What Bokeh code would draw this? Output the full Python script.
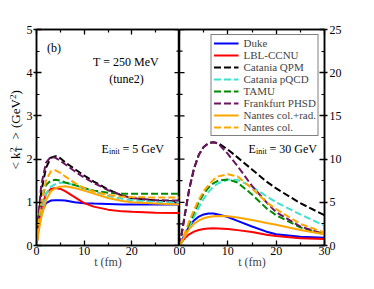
from math import pi
from bokeh.plotting import figure
from bokeh.layouts import row
from bokeh.models import Range1d, LinearAxis, FixedTicker, Label, Legend, LegendItem
from bokeh.embed import file_html
from bokeh.resources import INLINE

SERIF = "Liberation Serif"

series_names = ["Duke", "LBL-CCNU", "Catania QPM", "Catania pQCD", "TAMU",
                "Frankfurt PHSD", "Nantes col.+rad.", "Nantes col."]
series_colors = ["#0000ff", "#ff0000", "#000000", "#40e0d0", "#008b00",
                 "#6b1460", "#ffa500", "#ffa500"]
series_dashed = [False, False, True, True, True, True, False, True]

# ---- left panel: E_init = 5 GeV ----
t_left = [0, 0.5, 1, 2, 3, 4, 5, 6, 8, 10, 12, 15, 18, 20, 25, 30]
left_duke = [0, 0.45, 0.75, 0.98, 1.04, 1.05, 1.05, 1.04, 1.0, 0.98, 0.97, 0.96, 0.95, 0.95, 0.95, 0.95]
left_lbl = [0, 0.5, 0.85, 1.2, 1.31, 1.33, 1.31, 1.26, 1.12, 0.98, 0.9, 0.83, 0.79, 0.78, 0.76, 0.75]
left_qpm = [0.2, 0.7, 1.25, 1.8, 2.03, 2.07, 2.02, 1.93, 1.77, 1.62, 1.48, 1.3, 1.15, 1.1, 1.04, 1.02]
left_pqcd = [0, 0.45, 0.8, 1.2, 1.36, 1.42, 1.45, 1.45, 1.4, 1.32, 1.25, 1.15, 1.08, 1.05, 1.01, 1.0]
left_tamu = [0, 0.65, 1.05, 1.4, 1.5, 1.52, 1.5, 1.46, 1.4, 1.33, 1.27, 1.22, 1.2, 1.2, 1.2, 1.2]
left_phsd = [0.3, 0.8, 1.4, 1.92, 2.05, 2.03, 1.96, 1.88, 1.72, 1.57, 1.45, 1.28, 1.16, 1.1, 1.05, 1.04]
left_nantes_cr = [0, 0.35, 0.65, 1.05, 1.25, 1.33, 1.36, 1.37, 1.33, 1.27, 1.2, 1.1, 1.03, 1.0, 0.97, 0.95]
left_nantes_c = [0, 0.6, 1.0, 1.5, 1.72, 1.74, 1.68, 1.6, 1.45, 1.33, 1.25, 1.17, 1.13, 1.12, 1.11, 1.11]

# ---- right panel: E_init = 30 GeV ----
t_right = [0, 0.5, 1, 2, 3, 4, 5, 6, 7, 8, 10, 12, 15, 18, 20, 25, 30]
right_duke = [0, 0.6, 1.2, 2.2, 2.9, 3.35, 3.6, 3.7, 3.7, 3.6, 3.3, 2.85, 2.2, 1.6, 1.3, 1.0, 0.9]
right_lbl = [0, 0.4, 0.8, 1.3, 1.6, 1.8, 1.92, 1.98, 2.0, 1.98, 1.9, 1.78, 1.55, 1.25, 1.1, 0.85, 0.75]
right_qpm = [0, 1.5, 3.2, 6.5, 8.9, 10.5, 11.4, 11.85, 11.95, 11.85, 11.1, 10.2, 8.8, 7.4, 6.6, 4.9, 3.5]
right_pqcd = [0, 0.4, 0.9, 2.1, 3.3, 4.4, 5.4, 6.2, 6.8, 7.2, 7.6, 7.6, 6.8, 5.7, 5.0, 3.6, 2.3]
right_tamu = [0, 0.5, 1.1, 2.5, 3.8, 5.0, 6.0, 6.7, 7.2, 7.5, 7.65, 7.3, 5.9, 4.3, 3.5, 2.1, 1.3]
right_phsd = [0, 1.5, 3.2, 6.5, 8.9, 10.5, 11.4, 11.85, 11.95, 11.8, 10.6, 9.2, 6.9, 5.0, 3.85, 2.2, 1.3]
right_nantes_cr = [0, 0.5, 1.0, 1.9, 2.5, 2.9, 3.15, 3.3, 3.38, 3.4, 3.38, 3.25, 2.95, 2.6, 2.4, 1.8, 1.3]
right_nantes_c = [0, 0.6, 1.3, 2.8, 4.1, 5.3, 6.3, 7.0, 7.6, 8.0, 8.25, 8.0, 6.6, 5.0, 4.2, 2.5, 1.5]

left_series = [left_duke, left_lbl, left_qpm, left_pqcd, left_tamu, left_phsd, left_nantes_cr, left_nantes_c]
right_series = [right_duke, right_lbl, right_qpm, right_pqcd, right_tamu, right_phsd, right_nantes_cr, right_nantes_c]

# tick positions
left_y_ticks = [0, 1, 2, 3, 4, 5]
left_y_minor = [0.5, 1.5, 2.5, 3.5, 4.5]
right_y_ticks = [0, 5, 10, 15, 20, 25]
right_y_minor = [2.5, 7.5, 12.5, 17.5, 22.5]
x_ticks = [0, 10, 20, 30]
x_minor = [5, 15, 25]

FRAME_H = 216
TOP = 29
BOTTOM = 30


def style_axis(ax, tin, tout, lab=True):
    ax.axis_line_width = 1.5
    ax.major_tick_line_width = 1.3
    ax.minor_tick_line_width = 1.2
    ax.major_tick_in = tin
    ax.major_tick_out = tout
    ax.minor_tick_in = 3
    ax.minor_tick_out = 0
    ax.major_label_text_font = SERIF
    ax.major_label_text_font_size = "12px"
    ax.major_label_text_color = "black" if lab else None
    ax.axis_label_text_font = SERIF
    ax.axis_label_text_font_size = "12px"
    ax.axis_label_text_font_style = "normal"


def base_fig(fw, yr, bl, br):
    f = figure(frame_width=fw, frame_height=FRAME_H,
               min_border_left=bl, min_border_right=br, min_border_top=TOP, min_border_bottom=BOTTOM,
               x_range=Range1d(0, 30), y_range=yr, x_axis_type=None, y_axis_type=None,
               output_backend="svg", toolbar_location=None)
    f.xgrid.visible = False
    f.ygrid.visible = False
    f.outline_line_color = "black"
    f.outline_line_width = 1.5
    xb = LinearAxis(ticker=FixedTicker(ticks=x_ticks, minor_ticks=x_minor), axis_label="t (fm)")
    style_axis(xb, 5, 0)
    xb.major_label_standoff = 1
    xb.axis_label_standoff = -3
    f.add_layout(xb, "below")
    xt = LinearAxis(ticker=FixedTicker(ticks=x_ticks, minor_ticks=x_minor))
    style_axis(xt, 5, 0, lab=False)
    xt.major_label_text_font_size = "0px"
    xt.major_label_standoff = 0
    f.add_layout(xt, "above")
    return f


def lab(f, text, x, y, size="12px", align="left", baseline="alphabetic", angle=0):
    f.add_layout(Label(x=x, y=y, x_units="screen", y_units="screen", text=text,
                       text_font=SERIF, text_font_size=size, text_align=align,
                       text_baseline=baseline, angle=angle, text_color="black"))


# ---------- left panel ----------
pl = base_fig(143, Range1d(0, 5), 12, 0)
pl.below[0].major_label_overrides = {30: "0"}
yl = LinearAxis(ticker=FixedTicker(ticks=left_y_ticks, minor_ticks=left_y_minor))
style_axis(yl, 5, 3)
yl.major_label_standoff = 1
pl.add_layout(yl, "left")
# inward ticks on the shared divider
pl.scatter(x=[30] * len(left_y_ticks), y=left_y_ticks, marker="dash", size=10,
           line_color="black", line_width=1.3)
pl.scatter(x=[30] * len(left_y_minor), y=left_y_minor, marker="dash", size=6,
           line_color="black", line_width=1.2)

# ---------- right panel ----------
pr = base_fig(145, Range1d(0, 25), 0, 30)
yr = LinearAxis(ticker=FixedTicker(ticks=right_y_ticks, minor_ticks=right_y_minor))
style_axis(yr, 5, 3)
yr.major_label_standoff = 2
pr.add_layout(yr, "right")
pr.scatter(x=[0] * len(right_y_ticks), y=right_y_ticks, marker="dash", size=10,
           line_color="black", line_width=1.3)
pr.scatter(x=[0] * len(right_y_minor), y=right_y_minor, marker="dash", size=6,
           line_color="black", line_width=1.2)

items = []
for name, col, dsh, lv, rv in zip(series_names, series_colors, series_dashed, left_series, right_series):
    dash = "7 3" if dsh else "solid"
    pl.line(t_left, lv, line_color=col, line_width=2, line_dash=dash)
    r = pr.line(t_right, rv, line_color=col, line_width=2, line_dash=dash)
    items.append(LegendItem(label=name, renderers=[r]))

legend = Legend(items=items, location="top_right", margin=5, padding=2, spacing=-1,
                label_height=10, glyph_height=10, glyph_width=25, label_standoff=5,
                label_text_font=SERIF, label_text_font_size="11px",
                border_line_color="black", border_line_width=1.2,
                background_fill_alpha=1.0)
pr.add_layout(legend)

lab(pl, "(b)", 10.5, 198, baseline="middle")
lab(pl, "T = 250 MeV", 89.5, 184, align="center", baseline="middle")
lab(pl, "(tune2)", 90, 167, align="center", baseline="middle")
lab(pl, "E", 65, 97)
lab(pl, "init", 72.5, 94, size="8px")
lab(pl, "= 5 GeV", 86, 97)

lab(pr, "E", 69, 97)
lab(pr, "init", 76.5, 94, size="8px")
lab(pr, "= 30 GeV", 90, 97)

# ---------- y axis title strip ----------
pa = figure(frame_width=23, frame_height=FRAME_H,
            min_border_left=0, min_border_right=0, min_border_top=TOP, min_border_bottom=BOTTOM,
            x_range=Range1d(0, 1), y_range=Range1d(0, 1),
            x_axis_type=None, y_axis_type=None,
            output_backend="svg", toolbar_location=None)
pa.outline_line_color = None
pa.xgrid.visible = False
pa.ygrid.visible = False
cx = 15          # centre line of the rotated title
sub_x = 18       # subscript centre
sup_x = 12.5     # superscript centre
lab(pa, "<", cx, 76, size="13px", angle=pi / 2, baseline="middle")
lab(pa, "k", cx, 86.5, size="13px", angle=pi / 2, baseline="middle")
lab(pa, "T", sub_x, 93.5, size="9px", angle=pi / 2, baseline="middle")
lab(pa, "2", sup_x, 93.5, size="9px", angle=pi / 2, baseline="middle")
lab(pa, ">", cx, 106, size="13px", angle=pi / 2, baseline="middle")
lab(pa, "(GeV", cx, 117.5, size="13px", angle=pi / 2, baseline="middle")
lab(pa, "2", sup_x, 146.5, size="9px", angle=pi / 2, baseline="middle")
lab(pa, ")", cx, 151, size="13px", angle=pi / 2, baseline="middle")

layout = row(pa, pl, pr, spacing=0)
open("out.html", "w").write(file_html(layout, INLINE))
